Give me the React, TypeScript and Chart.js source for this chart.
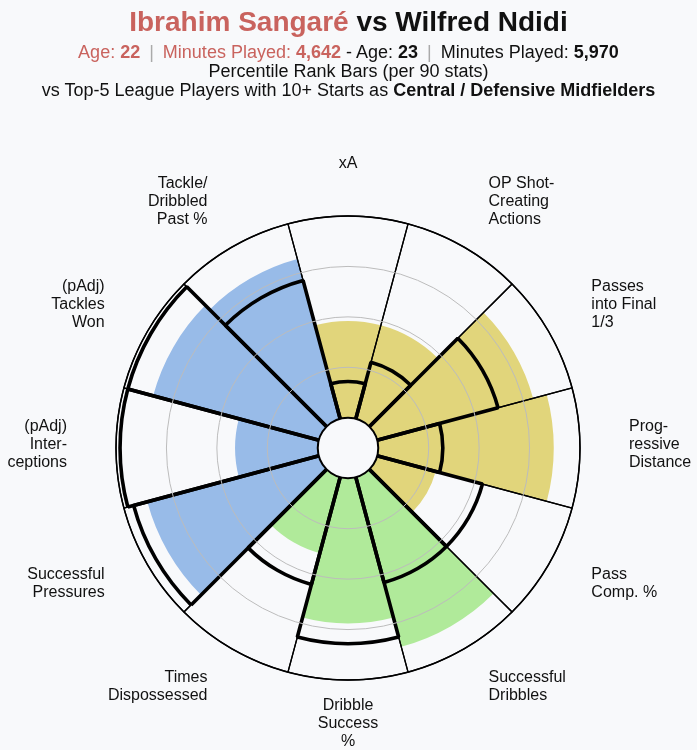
import React, { useEffect, useRef } from 'react';
import { Chart, registerables } from 'chart.js';

Chart.register(...registerables);

const categories: string[][] = [
  ['xA'],
  ['OP Shot-', 'Creating', 'Actions'],
  ['Passes', 'into Final', '1/3'],
  ['Prog-', 'ressive', 'Distance'],
  ['Pass', 'Comp. %'],
  ['Successful', 'Dribbles'],
  ['Dribble', 'Success', '%'],
  ['Times', 'Dispossessed'],
  ['Successful', 'Pressures'],
  ['(pAdj)', 'Inter-', 'ceptions'],
  ['(pAdj)', 'Tackles', 'Won'],
  ['Tackle/', 'Dribbled', 'Past %'],
];

const sangareValues = [48, 48, 80, 87, 30, 87, 72, 39, 88, 41, 85, 82];
const ndidiValues = [18, 29, 62, 32, 54, 54, 82, 55, 95, 98, 98, 71];
const frameValues = [100, 100, 100, 100, 100, 100, 100, 100, 100, 100, 100, 100];

const GOLD = '#e1d57b';
const GREEN = '#b0ea9a';
const BLUE = '#98bbe8';
const sliceColors = [GOLD, GOLD, GOLD, GOLD, GOLD, GREEN, GREEN, GREEN, BLUE, BLUE, BLUE, BLUE];

const BG = '#f8f9fb';
const RED = '#c9635e';

const pizzaPlugin = {
  id: 'pizzaDecor',
  afterDraw(chart: any) {
    const scale = chart.scales.r;
    const ctx = chart.ctx as CanvasRenderingContext2D;
    const cx = scale.xCenter;
    const cy = scale.yCenter;
    const hole = scale.getDistanceFromCenterForValue(0);
    ctx.save();
    ctx.beginPath();
    ctx.arc(cx, cy, hole, 0, Math.PI * 2);
    ctx.fillStyle = BG;
    ctx.fill();
    ctx.lineWidth = 2;
    ctx.strokeStyle = '#000';
    ctx.stroke();

    ctx.font = '16px "Liberation Sans", Arial, sans-serif';
    ctx.fillStyle = '#111';
    ctx.textBaseline = 'middle';
    const labels = chart.data.labels as string[][];
    const half = Math.PI / labels.length;
    const R = scale.drawingArea + 49;
    labels.forEach((lab, i) => {
      const a = scale.getIndexAngle(i) + half;
      const s = Math.sin(a);
      const c = Math.cos(a);
      const x = cx + R * s;
      const y = cy - R * c - 3 + (c < -0.2 ? -2 : 0);
      ctx.textAlign = Math.abs(s) < 0.05 ? 'center' : s > 0 ? 'left' : 'right';
      const lh = 18;
      lab.forEach((ln, k) => {
        ctx.fillText(ln, x, y + (k - (lab.length - 1) / 2) * lh);
      });
    });
    ctx.restore();
  },
};

export default function App() {
  const canvasRef = useRef<HTMLCanvasElement | null>(null);

  useEffect(() => {
    document.body.style.margin = '0';
    const canvas = canvasRef.current;
    if (!canvas) return;
    const chart = new Chart(canvas, {
      type: 'polarArea',
      data: {
        labels: categories,
        datasets: [
          {
            label: 'Wilfred Ndidi',
            data: ndidiValues,
            backgroundColor: 'rgba(0,0,0,0)',
            borderColor: '#000',
            borderWidth: 3.6,
            order: 0,
          },
          {
            label: 'Frame',
            data: frameValues,
            backgroundColor: 'rgba(0,0,0,0)',
            borderColor: '#000',
            borderWidth: 1.3,
            order: 1,
          },
          {
            label: 'Ibrahim Sangaré',
            data: sangareValues,
            backgroundColor: sliceColors,
            borderWidth: 0,
            order: 2,
          },
        ],
      },
      options: {
        responsive: false,
        animation: false,
        layout: { padding: { left: 116, right: 117, top: 216, bottom: 70 } },
        plugins: { legend: { display: false }, tooltip: { enabled: false } },
        scales: {
          r: {
            min: -15,
            max: 100,
            startAngle: -15,
            ticks: { display: false, stepSize: 25, z: 1 },
            pointLabels: { display: false },
            angleLines: { display: false },
            grid: {
              circular: true,
              z: 1,
              color: (c: any) => {
                const v = c.tick ? c.tick.value : 0;
                if (v >= 100) return '#000';
                if (v <= 0) return 'rgba(0,0,0,0)';
                return '#bcbcbc';
              },
              lineWidth: (c: any) => (c.tick && c.tick.value >= 100 ? 1.5 : 1),
            },
          },
        },
      },
      plugins: [pizzaPlugin],
    });
    return () => chart.destroy();
  }, []);

  const bar = { color: '#aaa', margin: '0 9px', fontWeight: 300 } as React.CSSProperties;

  return (
    <div
      style={{
        position: 'relative',
        width: 697,
        height: 750,
        background: BG,
        fontFamily: '"Liberation Sans", Arial, sans-serif',
        color: '#111',
        overflow: 'hidden',
      }}
    >
      <canvas ref={canvasRef} width={697} height={750} style={{ position: 'absolute', left: 0, top: 0 }} />
      <div style={{ position: 'absolute', left: 0, width: 697, top: 5, lineHeight: '34px', fontSize: 28, fontWeight: 'bold', textAlign: 'center' }}>
        <span style={{ color: RED }}>Ibrahim Sangaré</span> vs Wilfred Ndidi
      </div>
      <div style={{ position: 'absolute', left: 0, width: 697, top: 42, lineHeight: '20px', fontSize: 18, textAlign: 'center', whiteSpace: 'nowrap' }}>
        <span style={{ color: RED }}>Age: <b>22</b></span>
        <span style={bar}>|</span>
        <span style={{ color: RED }}>Minutes Played: <b>4,642</b></span> - Age: <b>23</b>
        <span style={bar}>|</span>
        Minutes Played: <b>5,970</b>
      </div>
      <div style={{ position: 'absolute', left: 0, width: 697, top: 61, lineHeight: '20px', fontSize: 18, textAlign: 'center' }}>
        Percentile Rank Bars (per 90 stats)
      </div>
      <div style={{ position: 'absolute', left: 0, width: 697, top: 80, lineHeight: '20px', fontSize: 18, textAlign: 'center', whiteSpace: 'nowrap' }}>
        vs Top-5 League Players with 10+ Starts as <b>Central / Defensive Midfielders</b>
      </div>
    </div>
  );
}
